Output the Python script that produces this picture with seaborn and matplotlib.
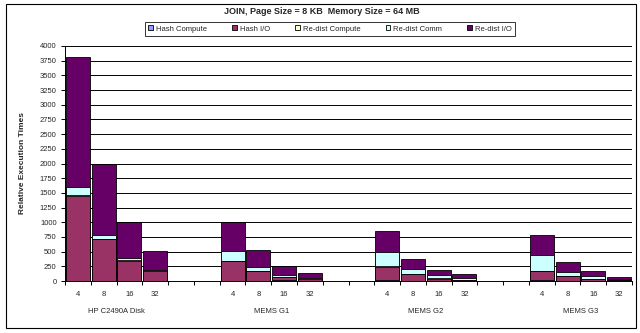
import numpy as np
import pandas as pd
import matplotlib
matplotlib.use("Agg")
import matplotlib.pyplot as plt
from matplotlib.patches import Patch, Rectangle
from matplotlib.transforms import blended_transform_factory
import seaborn as sns

sns.set_theme(style="white")
plt.rcParams["font.family"] = ["Liberation Sans", "DejaVu Sans"]

# Devices and buffer sizes (KB) on the x axis
devices = ["HP C2490A Disk", "MEMS G1", "MEMS G2", "MEMS G3"]
sizes = ["4", "8", "16", "32"]

# Stacked components, one value per (device, size) bar
hash_compute    = [5, 3, 2, 1,      8, 8, 10, 8,      15, 8, 8, 8,      10, 8, 8, 8]
hash_io         = [1440, 705, 340, 175,  330, 155, 58, 25,  220, 105, 32, 12,  155, 70, 26, 5]
redist_compute  = [15, 10, 10, 10,  10, 5, 5, 10,     15, 5, 5, 5,      10, 5, 5, 5]
redist_comm     = [145, 72, 45, 5,  155, 72, 30, 5,   240, 80, 50, 20,  270, 75, 40, 10]
redist_io       = [2215, 1200, 613, 314,  505, 280, 152, 80,  360, 182, 98, 70,  340, 160, 85, 48]

series_names = ["Hash Compute", "Hash I/O", "Re-dist Compute", "Re-dist Comm", "Re-dist I/O"]
series_colors = ["#9999FF", "#993366", "#FFFFCC", "#CCFFFF", "#660066"]
series_values = [hash_compute, hash_io, redist_compute, redist_comm, redist_io]

# Slot order along the axis: four bars per device, two empty slots between devices
order = []
bar_slots = []
for gi, dev in enumerate(devices):
    for s in sizes:
        name = f"{dev}|{s}"
        order.append(name)
        bar_slots.append(name)
    if gi < len(devices) - 1:
        order += [f"gap{gi}a", f"gap{gi}b"]

df = pd.DataFrame({"slot": bar_slots})
cum = np.cumsum(np.array(series_values, dtype=float), axis=0)
for i, name in enumerate(series_names):
    df[name] = cum[i]

fig = plt.figure(figsize=(6.4, 3.33), dpi=100)
ax = fig.add_axes([65 / 640, 1 - 281 / 333, (632 - 65) / 640, (281 - 46) / 333])

# Draw the cumulative totals from the top layer down so each segment shows
for i in reversed(range(len(series_names))):
    sns.barplot(data=df, x="slot", y=series_names[i], order=order,
                color=series_colors[i], saturation=1, edgecolor="black",
                linewidth=0.6, width=0.93, errorbar=None, ax=ax, zorder=3)

ax.set_xlim(-0.5, len(order) - 0.5)
ax.set_ylim(0, 4000)
ax.set_yticks(np.arange(0, 4001, 250))
ax.set_yticklabels([str(v) for v in range(0, 4001, 250)], fontsize=5.5)
ax.yaxis.grid(True, color="black", linewidth=0.7)
ax.set_axisbelow(True)

centers = [order.index(s) for s in bar_slots]
ax.set_xticks(centers)
ax.set_xticklabels([s.split("|")[1] for s in bar_slots], fontsize=5.5)
ax.set_xticks(np.arange(-0.5, len(order), 1), minor=True)
ax.tick_params(axis="x", which="major", length=0, pad=7)
ax.tick_params(axis="x", which="minor", length=3, width=0.7, color="black", direction="out", bottom=True)
ax.tick_params(axis="y", length=3, width=0.7, color="black", direction="out", left=True, pad=3)

ax.set_xlabel("")
ax.set_ylabel("Relative Execution Times", fontsize=6, fontweight="bold", labelpad=10)

for sp in ["top", "right"]:
    ax.spines[sp].set_visible(False)
for sp in ["left", "bottom"]:
    ax.spines[sp].set_color("black")
    ax.spines[sp].set_linewidth(0.7)

# Device names under each group of bars
trans = blended_transform_factory(ax.transData, ax.transAxes)
for gi, dev in enumerate(devices):
    first = order.index(f"{dev}|4")
    ax.text(first + 1.5, -0.128, dev, transform=trans, ha="center", va="center", fontsize=5.5)

fig.text(322 / 640, 1 - 11 / 333, "JOIN, Page Size = 8 KB  Memory Size = 64 MB",
         ha="center", va="center", fontsize=6.5, fontweight="bold")

handles = [Patch(facecolor=c, edgecolor="black", linewidth=0.6) for c in series_colors]
leg = fig.legend(handles, series_names, ncol=5, loc="center",
                 bbox_to_anchor=(330 / 640, 1 - 29 / 333), fontsize=5.5,
                 frameon=True, fancybox=False, edgecolor="black",
                 handlelength=0.6, handleheight=0.6, handletextpad=0.4,
                 columnspacing=3.3, borderpad=0.45)
leg.get_frame().set_linewidth(0.7)

# Chart area border
fig.patches.append(Rectangle((6 / 640, 5 / 333), 630 / 640, 324 / 333,
                             transform=fig.transFigure, fill=False,
                             edgecolor="black", linewidth=0.8))

fig.savefig("out.png", dpi=100, facecolor="white")
